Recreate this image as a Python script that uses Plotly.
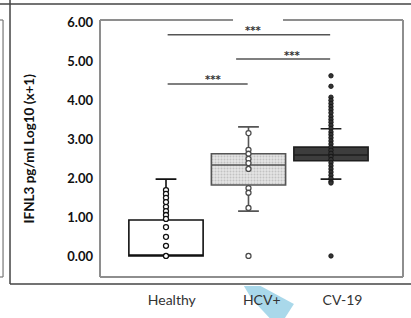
import plotly.graph_objects as go

# ---- data ----
groups = ["Healthy", "HCV+", "CV-19"]
group_pos = [1, 2, 3]
label_pos = [1.07, 2.16, 3.14]

q1 = [0.00, 1.82, 2.44]
median = [0.00, 2.33, 2.59]
q3 = [0.92, 2.62, 2.79]
lower = [0.00, 1.15, 1.97]
upper = [1.97, 3.31, 3.26]

healthy_pts = [1.69, 1.59, 1.49, 1.38, 1.26, 1.15, 1.05, 0.95, 0.74, 0.49, 0.26, 0.00]
hcv_pts = [3.15, 2.72, 2.62, 2.49, 2.38, 2.23, 1.74, 1.62, 1.23, 0.00]
cv19_pts = [4.62, 4.35, 4.07, 3.99, 3.91, 3.83, 3.75, 3.67, 3.58, 3.50, 3.43, 3.35,
            3.27, 3.18, 3.11, 3.03, 2.95, 2.87, 2.79, 2.71, 2.63, 2.55, 2.47, 2.39,
            2.31, 2.23, 2.15, 2.07, 1.99, 1.91, 1.87, 0.00]

y_ticks = [0, 1, 2, 3, 4, 5, 6]

# significance brackets: (x start, x end, y, label x, label y)
sig_x0 = [1.02, 1.85, 1.02]
sig_x1 = [2.99, 2.99, 1.99]
sig_y = [5.67, 5.05, 4.41]
sig_lx = [2.06, 2.53, 1.57]
sig_ly = [5.77, 5.15, 4.52]
sig_text = ["***", "***", "***"]

box_fill = ["#ffffff", "rgba(0,0,0,0)", "#3d3d3d"]
box_line = ["#111111", "#555555", "#1e1e1e"]

fig = go.Figure()

# patterned fill for HCV+ box
fig.add_trace(go.Bar(
    x=[group_pos[1]], y=[q3[1] - q1[1]], base=[q1[1]], width=0.9,
    marker=dict(color="#e2e2e2", line=dict(width=0),
                pattern=dict(shape=".", fgcolor="#a0a0a0", bgcolor="#e4e4e4", size=3, solidity=0.35)),
    showlegend=False, hoverinfo="skip"))

for i in range(3):
    fig.add_trace(go.Box(
        x=[group_pos[i]], q1=[q1[i]], median=[median[i]], q3=[q3[i]],
        lowerfence=[lower[i]], upperfence=[upper[i]],
        width=0.9, whiskerwidth=0.28, boxpoints=False,
        fillcolor=box_fill[i], line=dict(color=box_line[i], width=1.6),
        showlegend=False))

fig.add_trace(go.Scatter(
    x=[group_pos[0]] * len(healthy_pts), y=healthy_pts, mode="markers",
    marker=dict(size=5, color="white", line=dict(color="#111111", width=1.3)),
    showlegend=False))
fig.add_trace(go.Scatter(
    x=[group_pos[1]] * len(hcv_pts), y=hcv_pts, mode="markers",
    marker=dict(size=5, color="white", line=dict(color="#4a4a4a", width=1.3)),
    showlegend=False))
fig.add_trace(go.Scatter(
    x=[group_pos[2]] * len(cv19_pts), y=cv19_pts, mode="markers",
    marker=dict(size=4.5, color="#333333", line=dict(color="#111111", width=0.8)),
    showlegend=False))

shapes = []
for i in range(len(sig_y)):
    shapes.append(dict(type="line", xref="x", yref="y", x0=sig_x0[i], x1=sig_x1[i],
                       y0=sig_y[i], y1=sig_y[i], line=dict(color="#555555", width=1.4)))
    fig.add_annotation(x=sig_lx[i], y=sig_ly[i], text="<b>" + sig_text[i] + "</b>", showarrow=False,
                       font=dict(family="DejaVu Sans", size=10, color="#333333"))

# plot frame (with gap at the top)
fc = dict(color="#8e8e8e", width=2)
shapes += [
    dict(type="line", xref="paper", yref="paper", x0=0, x1=0, y0=0, y1=1, line=fc),
    dict(type="line", xref="paper", yref="paper", x0=1, x1=1, y0=0, y1=1, line=fc),
    dict(type="line", xref="paper", yref="paper", x0=0, x1=1, y0=0, y1=0, line=fc),
    dict(type="line", xref="paper", yref="paper", x0=0, x1=0.439, y0=1, y1=1, line=fc),
    dict(type="line", xref="paper", yref="paper", x0=0.604, x1=1, y0=1, y1=1, line=fc),
]
# outer panel lines
oc = dict(color="#444444", width=1.5)
shapes += [
    dict(type="line", xref="paper", yref="paper", x0=-0.34, x1=1.03, y0=1.062, y1=1.062, line=oc),
    dict(type="line", xref="paper", yref="paper", x0=-0.297, x1=-0.297, y0=-0.027, y1=1.08, line=oc),
    dict(type="line", xref="paper", yref="paper", x0=-0.297, x1=1.03, y0=-0.027, y1=-0.027, line=oc),
    dict(type="line", xref="paper", yref="paper", x0=-0.320, x1=-0.320, y0=0, y1=1, line=dict(color="#777777", width=1.2)),
    dict(type="line", xref="paper", yref="paper", x0=-0.34, x1=-0.320, y0=1, y1=1, line=dict(color="#777777", width=1.2)),
    dict(type="line", xref="paper", yref="paper", x0=-0.34, x1=-0.320, y0=0, y1=0, line=dict(color="#777777", width=1.2)),
]
# light blue arrow decoration
shapes.append(dict(type="path", xref="paper", yref="paper", layer="below",
                   path="M 0.475 -0.035 L 0.530 -0.035 L 0.640 -0.105 L 0.610 -0.160 L 0.560 -0.160 L 0.500 -0.085 Z",
                   fillcolor="#a9d8ea", line=dict(width=0)))

fig.add_annotation(xref="paper", yref="paper", x=0, y=0.50, xshift=-72,
                   text="<b>IFNL3 pg/ml Log10 (x+1)</b>", textangle=-90, showarrow=False,
                   font=dict(family="Lato", size=13.5, color="#111111"),
                   xanchor="center", yanchor="middle")

fig.update_layout(
    width=411, height=318,
    margin=dict(l=100, r=8, t=20, b=41),
    paper_bgcolor="white", plot_bgcolor="white",
    shapes=shapes, boxmode="overlay", barmode="overlay",
    xaxis=dict(range=[0.2, 3.873], tickvals=label_pos, ticktext=groups,
               showgrid=False, zeroline=False, showline=False, ticks="",
               ticklabelstandoff=13,
               tickfont=dict(family="Lato", size=14, color="#333333")),
    yaxis=dict(range=[-0.54, 6.05], tickvals=y_ticks, tickformat=".2f",
               showgrid=False, zeroline=False, showline=False, ticks="",
               ticklabelstandoff=6,
               tickfont=dict(family="Lato", size=13, color="#111111", weight="bold")),
)

fig.write_html("out.html", config={"displayModeBar": False},
               post_script="document.body.style.margin='0';")
